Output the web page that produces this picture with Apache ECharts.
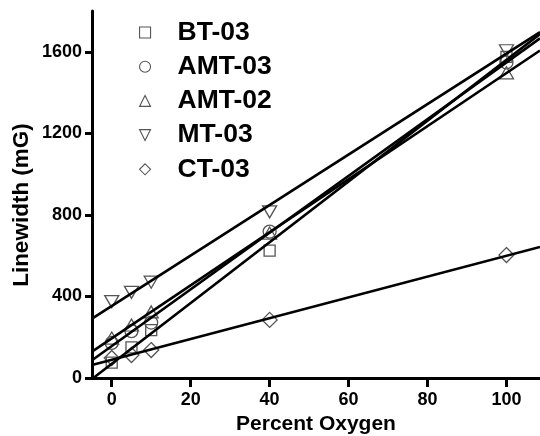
<!DOCTYPE html>
<html>
<head>
<meta charset="utf-8">
<script src="https://cdn.jsdelivr.net/npm/echarts@6/dist/echarts.min.js"></script>
<style>html,body{margin:0;padding:0;background:#fff;}#c{width:540px;height:436px;}</style>
</head>
<body>
<div id="c"></div>
<script>
var oxygen = [0, 5, 10, 40, 100];
var seriesNames = ['BT-03', 'AMT-03', 'AMT-02', 'MT-03', 'CT-03'];
var bt03  = [75, 150, 235, 625, 1575];
var amt03 = [172, 230, 272, 718, 1548];
var amt02 = [196, 260, 324, 711, 1497];
var mt03  = [375, 420, 470, 815, 1605];
var ct03  = [98, 113, 137, 285, 603];
var xTicks = [0, 20, 40, 60, 80, 100];
var yTicks = [0, 400, 800, 1200, 1600];
var xMin = -5, xMax = 108.5;

var values = [bt03, amt03, amt02, mt03, ct03];
var symbols = ['rect', 'circle', 'triangle', 'path://M0,0 L10,0 L5,10 Z', 'diamond'];
var sizes = [[11, 11], [13, 13], [14, 12], [14, 12], [15, 15]];
var FONT = '"Liberation Sans", Arial, sans-serif';

function fit(xs, ys) {
  var n = xs.length, mx = 0, my = 0, sxx = 0, sxy = 0;
  for (var i = 0; i < n; i++) { mx += xs[i]; my += ys[i]; }
  mx /= n; my /= n;
  for (var j = 0; j < n; j++) { sxx += (xs[j]-mx)*(xs[j]-mx); sxy += (xs[j]-mx)*(ys[j]-my); }
  var b = sxy / sxx; return [my - b*mx, b];
}

var series = [];
values.forEach(function (vals, k) {
  var f = fit(oxygen, vals);
  series.push({
    type: 'line', name: 'fit-' + seriesNames[k], silent: true, symbol: 'none',
    data: [[xMin, f[0] + f[1]*xMin], [xMax, f[0] + f[1]*xMax]],
    lineStyle: { color: '#000', width: 2.6 }, z: 3
  });
});
values.forEach(function (vals, k) {
  series.push({
    type: 'scatter', name: seriesNames[k], symbol: symbols[k], symbolSize: sizes[k],
    data: oxygen.map(function (x, i) { return [x, vals[i]]; }),
    itemStyle: { color: 'rgba(0,0,0,0)', borderColor: '#555', borderWidth: 1.3, opacity: 1 },
    z: 2
  });
});

var chart = echarts.init(document.getElementById('c'), null, { renderer: 'canvas' });
chart.setOption({
  animation: false,
  backgroundColor: '#fff',
  grid: { left: 92, right: 0, top: 11, bottom: 58, containLabel: false, outerBoundsMode: 'none' },
  legend: {
    data: seriesNames.map(function (n, k) { return { name: n, icon: symbols[k] }; }),
    orient: 'vertical', left: 134, top: 14,
    itemWidth: 11, itemHeight: 11, itemGap: 7.2,
    symbolRotate: 0,
    itemStyle: { color: 'rgba(0,0,0,0)', borderColor: '#555', borderWidth: 1.1 },
    textStyle: { fontFamily: FONT, fontWeight: 'bold', fontSize: 26.5, color: '#000', lineHeight: 26.5, padding: [0, 0, 0, 22] },
    selectedMode: false
  },
  graphic: [{
    type: 'text', x: 22, y: 205, rotation: Math.PI / 2, silent: true,
    style: { text: 'Linewidth (mG)', fontFamily: FONT, fontWeight: 'bold', fontSize: 22.5, fill: '#000', align: 'center', verticalAlign: 'middle' }
  }],
  xAxis: {
    type: 'value', min: xMin, max: xMax,
    name: 'Percent Oxygen', nameLocation: 'middle', nameGap: 36,
    nameTextStyle: { fontFamily: FONT, fontWeight: 'bold', fontSize: 21, color: '#000' },
    axisLine: { onZero: false, lineStyle: { color: '#000', width: 3 } },
    axisTick: { show: true, length: 9, lineStyle: { color: '#000', width: 3 }, customValues: xTicks },
    axisLabel: { customValues: xTicks, margin: 13, fontFamily: FONT, fontWeight: 'bold', fontSize: 18, color: '#000' },
    splitLine: { show: false }
  },
  yAxis: {
    type: 'value', min: 0, max: 1800,
    axisLine: { onZero: false, lineStyle: { color: '#000', width: 3 } },
    axisTick: { show: true, length: 7, lineStyle: { color: '#000', width: 3 }, customValues: yTicks },
    axisLabel: { customValues: yTicks, margin: 10, fontFamily: FONT, fontWeight: 'bold', fontSize: 18, color: '#000',
      formatter: function (v) { return String(v); } },
    splitLine: { show: false }
  },
  series: series
});
</script>
</body>
</html>
